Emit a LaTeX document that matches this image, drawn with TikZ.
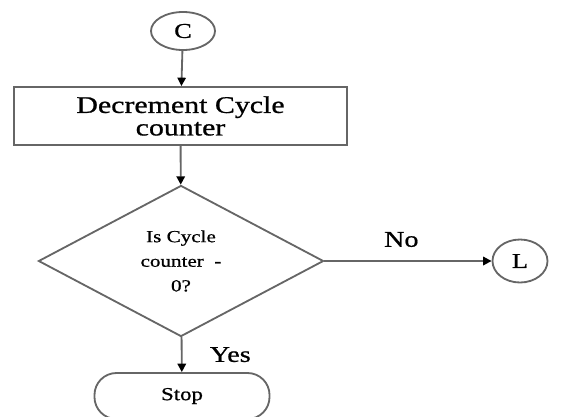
\documentclass[tikz,border=0pt]{standalone}
\usepackage{fontspec}
\setmainfont[FakeStretch=1.25, FakeBold=0.8]{Liberation Serif}
\usetikzlibrary{shapes.geometric, arrows.meta}

\begin{document}
\begin{tikzpicture}[x=0.025cm, y=-0.025cm, line width=1.3pt, draw=black!60,
        arr/.style={-{Triangle[length=6pt, width=6pt, color=black]}},
        connector/.style={draw, ellipse, inner sep=0pt, font=\fontsize{15}{18}\selectfont}]
        \useasboundingbox (0, 0) rectangle (563, 416);

        \node[connector, minimum width=1.6cm, minimum height=0.95cm] (c) at (183, 31) {C};
        \node[draw, minimum width=8.325cm, minimum height=1.45cm, align=center,
            font=\fontsize{17}{16}\selectfont] (dec) at (180.5, 116) {Decrement Cycle\\counter};
        \node[draw, diamond, inner sep=0pt, minimum width=7.125cm, minimum height=3.775cm, align=center,
            font=\fontsize{12}{17.5}\selectfont] (test) at (181, 261) {Is Cycle\\counter \ \textbf{-}\\0?};
        \node[connector, minimum width=1.375cm, minimum height=1.075cm] (l) at (520, 261) {L};
        \node[draw, rounded corners=0.55cm, minimum width=4.375cm, minimum height=1.15cm,
            font=\fontsize{13}{15}\selectfont] (stop) at (182, 396) {Stop};

        \draw[arr] (c) -- (dec);
        \draw[arr] (dec) -- (test);
        \draw[arr] (test) -- node[pos=0.46, above=6pt, font=\fontsize{16}{18}\selectfont] {No} (l);
        \draw[arr] (test) -- node[right=16pt, font=\fontsize{16}{18}\selectfont] {Yes} (stop);
    \end{tikzpicture}
\end{document}
